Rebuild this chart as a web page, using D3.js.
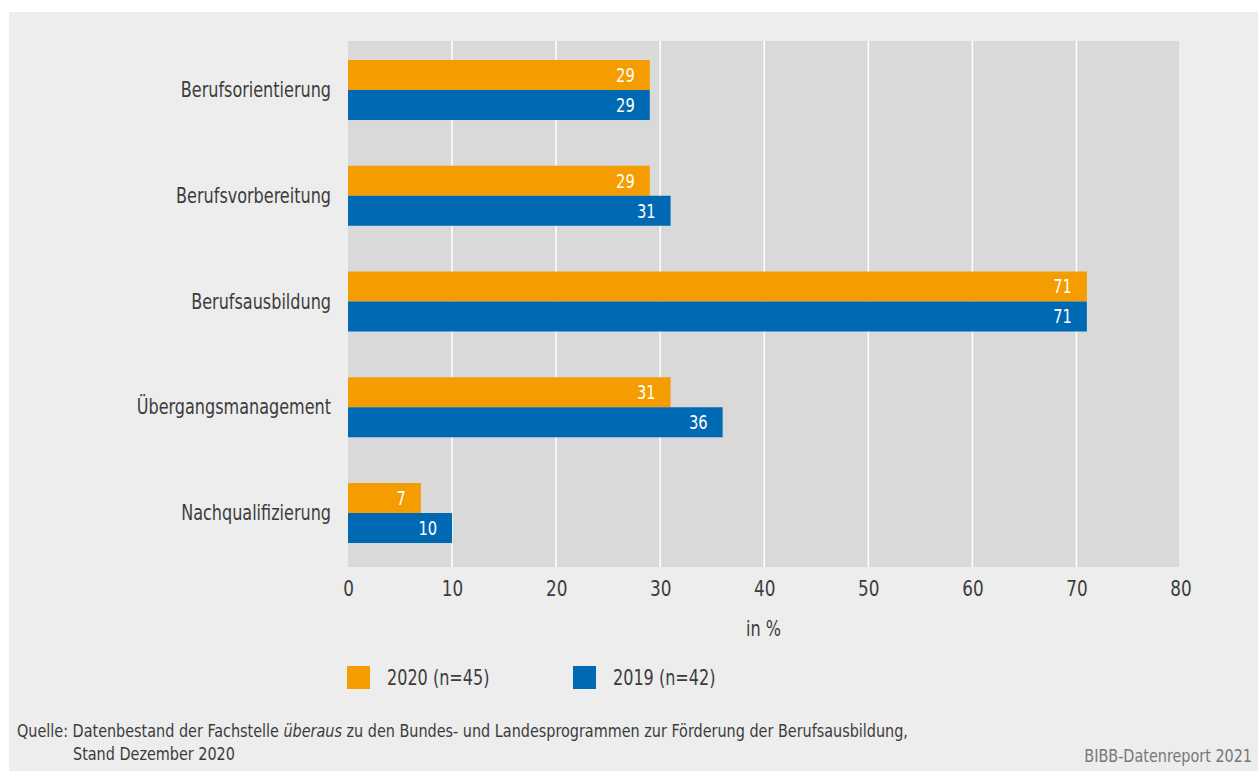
<!DOCTYPE html>
<html><head><meta charset="utf-8">
<script src="https://cdn.jsdelivr.net/npm/d3@7"></script>
<style>
html,body{margin:0;padding:0;background:#fff;}
svg{display:block;font-family:"DejaVu Sans Condensed","DejaVu Sans",sans-serif;}
</style></head><body>
<svg id="c" width="1258" height="771"></svg>
<script>
const categories = ["Berufsorientierung","Berufsvorbereitung","Berufsausbildung","Übergangsmanagement","Nachqualifizierung"];
const series = ["2020 (n=45)","2019 (n=42)"];
const values2020 = [29, 29, 71, 31, 7];
const values2019 = [29, 31, 71, 36, 10];
const xTicks = [0,10,20,30,40,50,60,70,80];
const colors = ["#f59c00","#0069b4"];

const TXT = "#3c3c3c";
const svg = d3.select("#c");
svg.append("rect").attr("x",9).attr("y",12).attr("width",1249).attr("height",759).attr("fill","#ededed");

const L=348,R=1179,T=41,B=567;
svg.append("rect").attr("x",L).attr("y",T).attr("width",R-L).attr("height",B-T).attr("fill","#d9d9d9");

const x = d3.scaleLinear().domain([0,80]).range([L,1180.5]);
const y = d3.scaleBand().domain(categories).range([T,B]).paddingInner(0.4326).paddingOuter(0.2033).align(0.442);
const ySub = d3.scaleBand().domain(series).range([0,y.bandwidth()]);

function label(sel, px, py, sx, size){
  return sel.append("text").attr("transform",`translate(${px},${py}) scale(${sx},1)`).attr("font-size",size);
}

// grid
svg.append("g").selectAll("line").data(xTicks.filter(d=>d>0&&d<80)).join("line")
  .attr("x1",d=>x(d)).attr("x2",d=>x(d)).attr("y1",T).attr("y2",B)
  .attr("stroke","#fff").attr("stroke-width",1.5);

const data = categories.map((c,i)=>({c, vals:[values2020[i],values2019[i]]}));
const g = svg.append("g").selectAll("g").data(data).join("g")
  .attr("transform",d=>`translate(0,${y(d.c)})`);
g.selectAll("rect").data(d=>d.vals.map((v,j)=>({v,s:series[j],j}))).join("rect")
  .attr("x",x(0)).attr("y",d=>ySub(d.s)).attr("width",d=>x(d.v)-x(0)).attr("height",ySub.bandwidth())
  .attr("fill",d=>colors[d.j]);
g.selectAll("text").data(d=>d.vals.map((v,j)=>({v,s:series[j],j}))).join("text")
  .attr("transform",d=>`translate(${x(d.v)-15},${ySub(d.s)+ySub.bandwidth()/2}) scale(0.86,1)`)
  .attr("dy","0.36em").attr("text-anchor","end").attr("fill","#fff").attr("font-size",19).text(d=>d.v);

// category labels
svg.append("g").selectAll("text").data(categories).join("text")
  .attr("transform",d=>`translate(331,${y(d)+y.bandwidth()/2}) scale(0.87,1)`).attr("dy","0.35em")
  .attr("text-anchor","end").attr("fill",TXT).attr("font-size",20.5).text(d=>d);

// x axis
const ax = svg.append("g").attr("transform",`translate(0,${B})`)
  .call(d3.axisBottom(x).tickValues(xTicks).tickSize(0).tickPadding(13).tickFormat(d3.format("d")));
ax.select(".domain").remove();
ax.selectAll("text").attr("font-size",22).attr("fill",TXT)
  .attr("font-family","DejaVu Sans Condensed, DejaVu Sans, sans-serif").attr("transform","scale(0.85,1)");

label(svg,(L+R)/2,636,0.87,20.5).attr("text-anchor","middle").attr("fill",TXT).text("in %");

// legend
const legX=[347,573];
series.forEach((s,i)=>{
  svg.append("rect").attr("x",legX[i]).attr("y",666).attr("width",23).attr("height",23).attr("fill",colors[i]);
  label(svg,legX[i]+40,685,0.87,20.5).attr("fill",TXT).text(s);
});

// footer
const f = label(svg,17,737,0.89,18).attr("fill",TXT);
f.append("tspan").text("Quelle: Datenbestand der Fachstelle ");
f.append("tspan").attr("font-style","italic").text("überaus");
f.append("tspan").text(" zu den Bundes- und Landesprogrammen zur Förderung der Berufsausbildung,");
label(svg,73,760,0.89,18).attr("fill",TXT).text("Stand Dezember 2020");
label(svg,1252,762,0.89,18).attr("text-anchor","end").attr("fill","#777").text("BIBB-Datenreport 2021");
</script></body></html>
